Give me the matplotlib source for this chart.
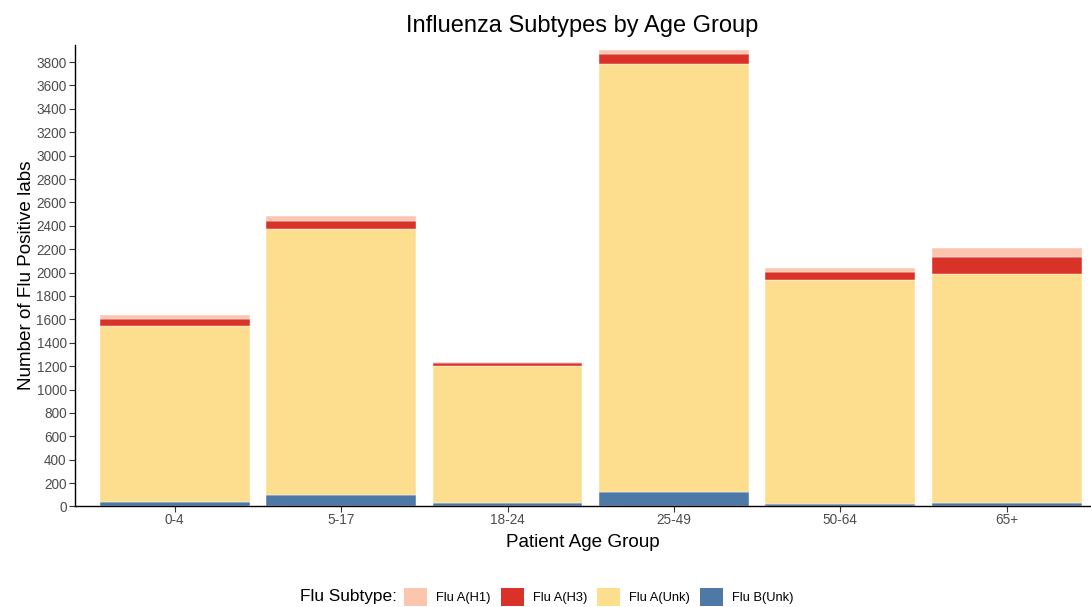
import matplotlib.pyplot as plt
import matplotlib.patches as patches

plt.rcParams['font.family'] = ['Liberation Sans', 'DejaVu Sans']

# data
age_groups = ['0-4', '5-17', '18-24', '25-49', '50-64', '65+']
flu_b_unk = [36, 96, 27, 128, 23, 32]
flu_a_unk = [1503, 2273, 1170, 3657, 1910, 1952]
flu_a_h3 = [66, 75, 31, 88, 72, 149]
flu_a_h1 = [32, 37, 9, 32, 37, 80]

subtypes = ['Flu A(H1)', 'Flu A(H3)', 'Flu A(Unk)', 'Flu B(Unk)']
colors = {'Flu A(H1)': '#FCC5AE', 'Flu A(H3)': '#D93228',
          'Flu A(Unk)': '#FDDE8E', 'Flu B(Unk)': '#4E79A7'}

fig = plt.figure(figsize=(10.91, 6.07), dpi=100)
ax = fig.add_axes([0.0687, 0.1656, 0.9303, 0.7603])

x = list(range(len(age_groups)))
bottom = [0] * len(age_groups)
# stack from the bottom up: B, A(Unk), A(H3), A(H1)
for name, vals in [('Flu B(Unk)', flu_b_unk), ('Flu A(Unk)', flu_a_unk),
                   ('Flu A(H3)', flu_a_h3), ('Flu A(H1)', flu_a_h1)]:
    ax.bar(x, vals, width=0.9, bottom=bottom, color=colors[name],
           edgecolor='white', linewidth=0.3)
    bottom = [b + v for b, v in zip(bottom, vals)]

ax.set_xlim(-0.6, 5.5)
ax.set_ylim(0, 3946)
ax.set_xticks(x)
ax.set_xticklabels(age_groups)
ax.set_yticks(range(0, 3801, 200))

for side in ['top', 'right']:
    ax.spines[side].set_visible(False)
for side in ['left', 'bottom']:
    ax.spines[side].set_color('black')
    ax.spines[side].set_linewidth(1.0)

ax.tick_params(axis='both', labelsize=9.8, labelcolor='#4D4D4D',
               color='#333333', length=4, width=0.8, pad=2)
ax.tick_params(axis='x', pad=1)

ax.set_title('Influenza Subtypes by Age Group', fontsize=17, pad=9)
ax.set_xlabel('Patient Age Group', fontsize=13.6, labelpad=5)
ax.set_ylabel('Number of Flu Positive labs', fontsize=13.6, labelpad=1)

# legend at the bottom with the title inline
handles = [patches.Patch(facecolor=colors[s], edgecolor='none') for s in subtypes]
fig.legend(handles, subtypes, loc='center', bbox_to_anchor=(0.549, 0.0165),
           ncol=4, frameon=False, fontsize=9.3, handlelength=1.78,
           handleheight=1.78, handletextpad=0.7, columnspacing=0.78,
           borderaxespad=0, borderpad=0)
fig.text(0.275, 0.0165, 'Flu Subtype:', fontsize=12.4, ha='left', va='center')

plt.savefig('out.png', dpi=100)
